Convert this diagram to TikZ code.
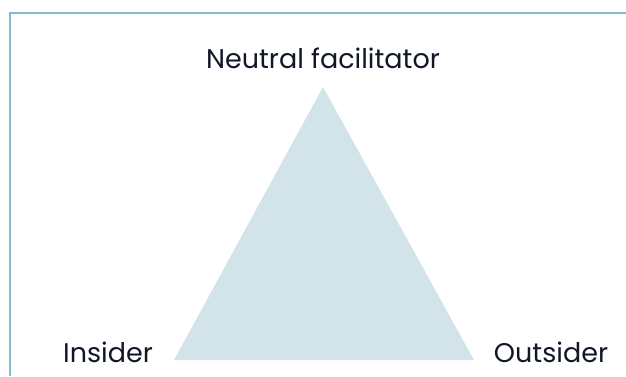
\documentclass[tikz,border=0pt]{standalone}
\usepackage{fontspec}
\setmainfont{Poppins}
\definecolor{framecol}{HTML}{7FBCD0}
\definecolor{trifill}{HTML}{D2E4EA}
\definecolor{labelcol}{HTML}{101828}

\begin{document}
\begin{tikzpicture}[x=1pt,y=1pt,
        role/.style={text=labelcol,font=\fontsize{27}{30}\selectfont,inner sep=0pt}]
                \useasboundingbox (0,0) rectangle (626,376);
                \draw[framecol,line width=1.5pt] (10,0) -- (10,363) -- (626,363);
                \coordinate (top) at (323,289);
                \coordinate (left) at (174,16);
                \coordinate (right) at (474,16);
                \fill[trifill] (top) -- (left) -- (right) -- cycle;
                \node[role] (N) at (323,318) {Neutral facilitator};
                \node[role] (I) at (108,24) {Insider};
                \node[role] (O) at (551,24) {Outsider};
            \end{tikzpicture}
\end{document}
